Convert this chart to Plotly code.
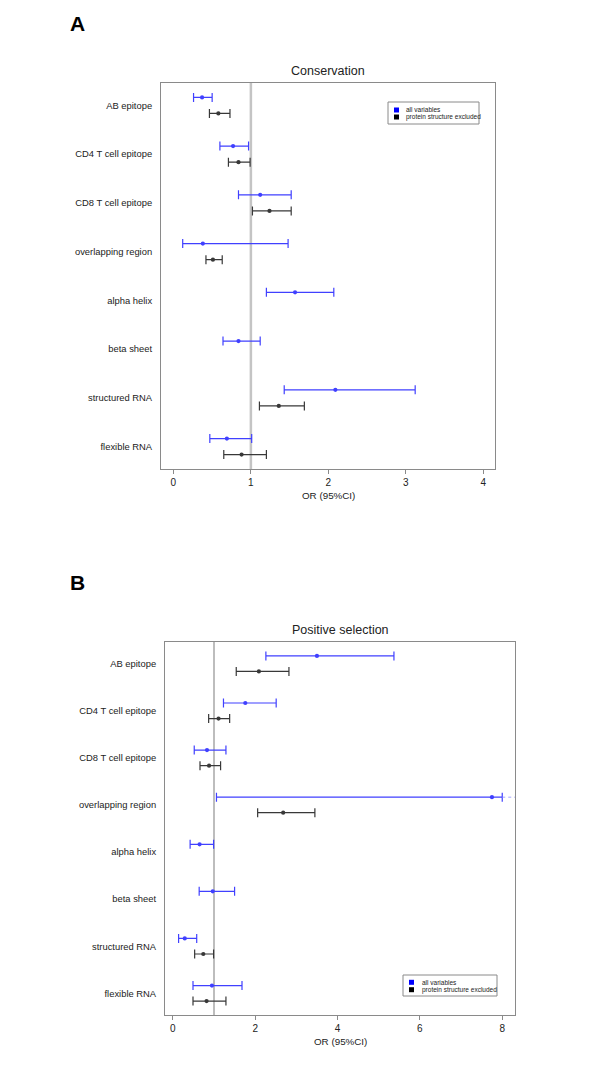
import plotly.graph_objects as go

# page has an 8px body margin, so the figure is drawn at (8, 8)
PAGE_W, PAGE_H = 600, 1090
OX, OY = 8, 8
W, H = PAGE_W - OX, PAGE_H - OY

categories = ["AB epitope", "CD4 T cell epitope", "CD8 T cell epitope", "overlapping region",
              "alpha helix", "beta sheet", "structured RNA", "flexible RNA"]

# Panel A: Conservation
a_all_or = [0.37, 0.77, 1.12, 0.38, 1.57, 0.84, 2.09, 0.69]
a_all_lo = [0.26, 0.60, 0.84, 0.12, 1.20, 0.64, 1.43, 0.47]
a_all_hi = [0.50, 0.97, 1.52, 1.48, 2.07, 1.12, 3.12, 1.01]
a_exc_or = [0.58, 0.84, 1.24, 0.51, None, None, 1.36, 0.88]
a_exc_lo = [0.465, 0.71, 1.02, 0.42, None, None, 1.11, 0.65]
a_exc_hi = [0.73, 0.99, 1.52, 0.63, None, None, 1.69, 1.20]

# Panel B: Positive selection (upper CI of overlapping region exceeds the axis; drawn to clip value)
b_all_or = [3.50, 1.76, 0.83, 7.75, 0.65, 0.97, 0.29, 0.95]
b_all_lo = [2.26, 1.23, 0.52, 1.06, 0.42, 0.64, 0.14, 0.49]
b_all_hi = [5.37, 2.51, 1.29, 8.00, 0.99, 1.50, 0.58, 1.68]
b_all_clipped = [False, False, False, True, False, False, False, False]
b_exc_or = [2.09, 1.11, 0.88, 2.68, None, None, 0.74, 0.82]
b_exc_lo = [1.54, 0.87, 0.66, 2.06, None, None, 0.53, 0.49]
b_exc_hi = [2.82, 1.38, 1.16, 3.45, None, None, 0.99, 1.29]

a_ticks = [0, 1, 2, 3, 4]
b_ticks = [0, 2, 4, 6, 8]
ref_or = 1

series_names = ["all variables", "protein structure excluded"]

BLUE = "#4040ff"
BLACK = "#383838"
FRAME = "#8a8a8a"
TXT = "#222222"
FONT = "Liberation Sans, Arial, sans-serif"
OFF = 0.165

def px_x(p):
    return (p - OX) / W

def px_y(p):
    return 1 - (p - OY) / H

fig = go.Figure()

def add_series(ors, los, his, color, shift, xa, ya):
    xs, ys, plus, minus = [], [], [], []
    for i, (o, l, h) in enumerate(zip(ors, los, his)):
        if o is None:
            continue
        xs.append(o)
        ys.append(i + shift)
        plus.append(h - o)
        minus.append(o - l)
    fig.add_trace(go.Scatter(
        x=xs, y=ys, mode="markers", xaxis=xa, yaxis=ya, showlegend=False,
        marker=dict(color=color, size=4.2, symbol="circle"),
        error_x=dict(type="data", symmetric=False, array=plus, arrayminus=minus,
                     color=color, thickness=1.2, width=4.5),
        hoverinfo="skip",
    ))

add_series(a_all_or, a_all_lo, a_all_hi, BLUE, -OFF, "x", "y")
add_series(a_exc_or, a_exc_lo, a_exc_hi, BLACK, OFF, "x", "y")
add_series(b_all_or, b_all_lo, b_all_hi, BLUE, -OFF, "x2", "y2")
add_series(b_exc_or, b_exc_lo, b_exc_hi, BLACK, OFF, "x2", "y2")

a_range = [-0.16, 4.15]
b_range = [-0.19, 8.31]
y_range = [7.46, -0.46]

# panel geometry in page pixels
A_L, A_R, A_T, A_B = 161, 495, 83, 469
B_L, B_R, B_T, B_B = 165, 515, 642, 1015

def xaxis(dom, ticks, rng):
    return dict(domain=[px_x(dom[0]), px_x(dom[1])], range=rng, tickvals=ticks,
                ticktext=[str(t) for t in ticks], showgrid=False, zeroline=False,
                showline=True, mirror=True, linecolor=FRAME, linewidth=1,
                ticks="outside", ticklen=4, tickcolor=FRAME, tickwidth=1,
                tickfont=dict(family=FONT, size=10, color=TXT), fixedrange=True)

def yaxis(dom):
    return dict(domain=[px_y(dom[1]), px_y(dom[0])], range=y_range,
                tickvals=list(range(len(categories))), ticktext=categories,
                showgrid=False, zeroline=False, showline=True, mirror=True,
                linecolor=FRAME, linewidth=1, ticks="", ticklabelstandoff=6,
                tickfont=dict(family=FONT, size=9.4, color=TXT), fixedrange=True)

shapes = []
annotations = []

# reference lines at OR = 1
shapes.append(dict(type="line", xref="x", yref="y domain", x0=ref_or, x1=ref_or, y0=0, y1=1,
                   line=dict(color="#c4c4c4", width=2.5), layer="below"))
shapes.append(dict(type="line", xref="x2", yref="y2 domain", x0=ref_or, x1=ref_or, y0=0, y1=1,
                   line=dict(color="#9a9a9a", width=1.3), layer="below"))

# dotted continuation for clipped CI in panel B
for i, c in enumerate(b_all_clipped):
    if c:
        shapes.append(dict(type="line", xref="x2", yref="y2", x0=b_all_hi[i], x1=b_range[1],
                           y0=i - OFF, y1=i - OFF,
                           line=dict(color="#8c8cff", width=0.8, dash="dot")))

# titles, panel letters, x-axis titles
for title, (l, r, t, b), letter, ly in [("Conservation", (A_L, A_R, A_T, A_B), "A", 24),
                                         ("Positive selection", (B_L, B_R, B_T, B_B), "B", 582)]:
    cx = (l + r) / 2
    annotations.append(dict(text=title, x=px_x(cx), y=px_y(t - 12), xref="paper", yref="paper",
                            showarrow=False, xanchor="center", yanchor="middle",
                            font=dict(family=FONT, size=12.5, color=TXT)))
    annotations.append(dict(text="OR (95%CI)", x=px_x(cx), y=px_y(b + 26), xref="paper", yref="paper",
                            showarrow=False, xanchor="center", yanchor="middle",
                            font=dict(family=FONT, size=9.8, color=TXT)))
    annotations.append(dict(text="<b>" + letter + "</b>", x=px_x(77.5), y=px_y(ly), xref="paper",
                            yref="paper", showarrow=False, xanchor="center", yanchor="middle",
                            font=dict(family=FONT, size=21, color="#000000")))

# manual legends
def legend(box, sq_x, txt_x, rows_y):
    x0, x1, y0, y1 = box
    shapes.append(dict(type="rect", xref="paper", yref="paper", x0=px_x(x0), x1=px_x(x1),
                       y0=px_y(y1), y1=px_y(y0), line=dict(color=FRAME, width=1),
                       fillcolor="white"))
    for name, col, yy in zip(series_names, ["#0000ff", "#000000"], rows_y):
        shapes.append(dict(type="rect", xref="paper", yref="paper",
                           x0=px_x(sq_x - 2.5), x1=px_x(sq_x + 2.5),
                           y0=px_y(yy + 2.5), y1=px_y(yy - 2.5),
                           line=dict(width=0), fillcolor=col))
        annotations.append(dict(text=name, x=px_x(txt_x), y=px_y(yy), xref="paper", yref="paper",
                                showarrow=False, xanchor="left", yanchor="middle",
                                font=dict(family=FONT, size=6.5, color=TXT)))

legend((388, 479, 102, 124), 396.5, 403.5, (110, 117))
legend((403, 497, 975, 996), 411.5, 419.5, (982.3, 989.7))

fig.update_layout(
    width=W, height=H, margin=dict(l=0, r=0, t=0, b=0),
    paper_bgcolor="white", plot_bgcolor="white", showlegend=False,
    xaxis=xaxis((A_L, A_R), a_ticks, a_range), yaxis=yaxis((A_T, A_B)),
    xaxis2=dict(xaxis((B_L, B_R), b_ticks, b_range), anchor="y2"),
    yaxis2=dict(yaxis((B_T, B_B)), anchor="x2"),
    shapes=shapes, annotations=annotations,
)
fig.update_layout(xaxis=dict(anchor="y"), yaxis=dict(anchor="x"))

fig.write_html("out.html")
